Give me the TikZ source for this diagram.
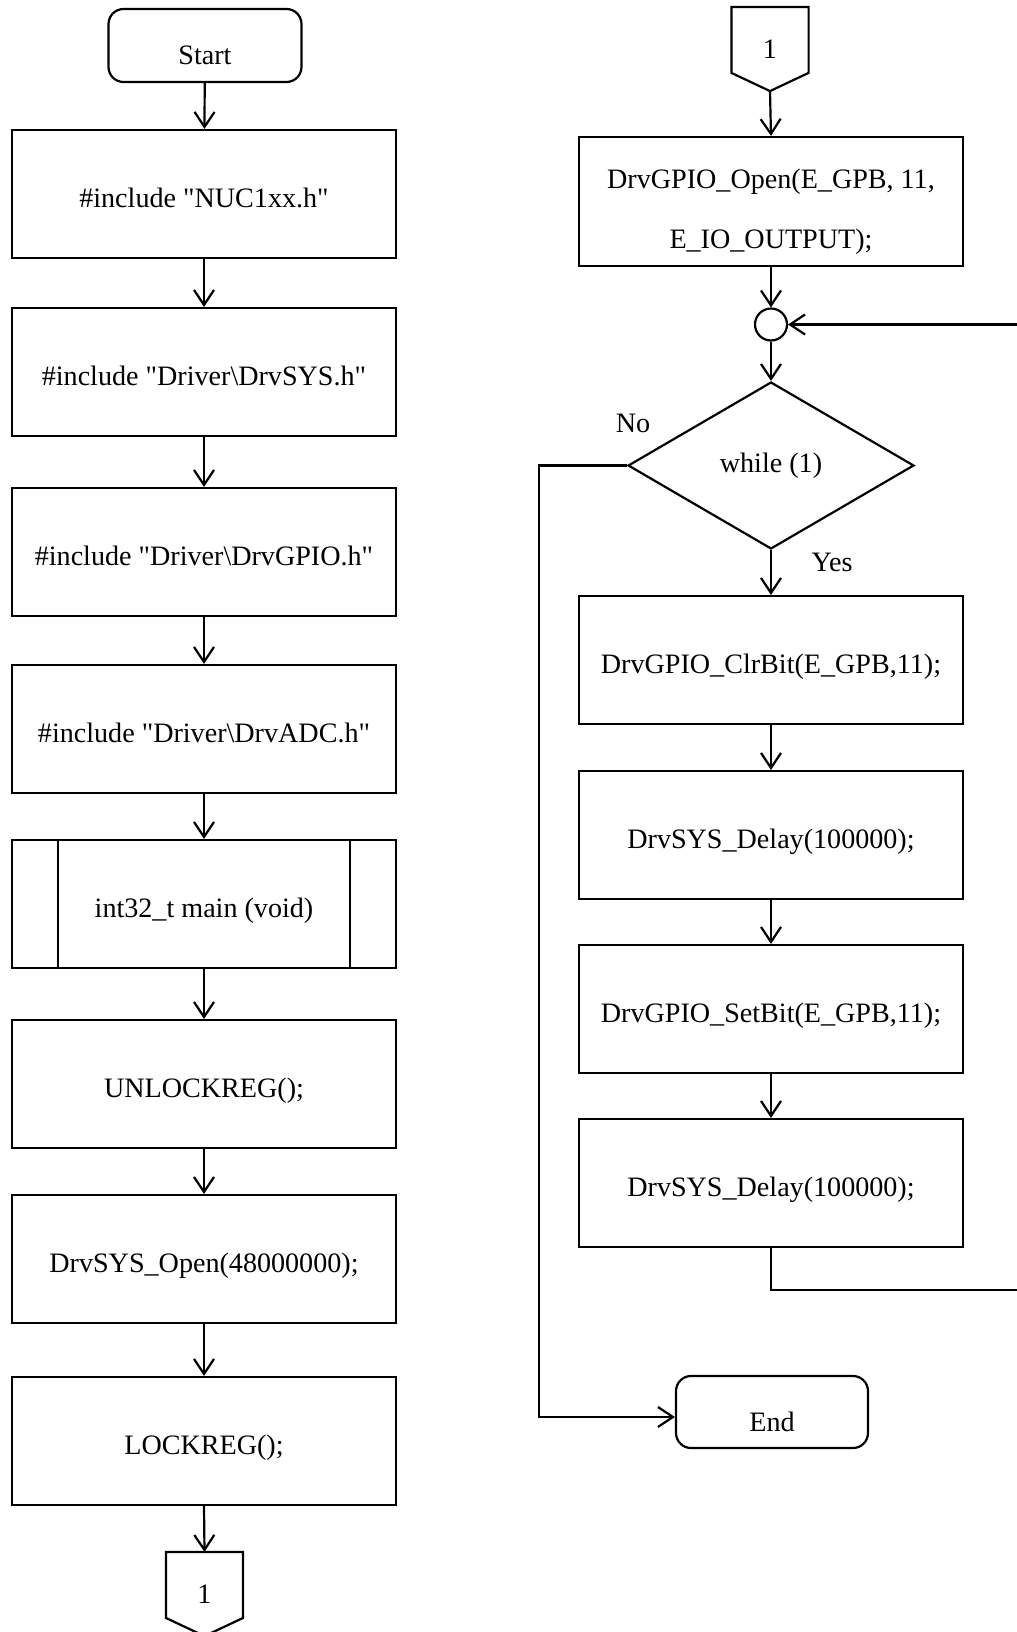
\documentclass[tikz,border=0pt]{standalone}
\usepackage{fontspec}
\setmainfont{Liberation Serif}[Ligatures=TeXOff]
\usetikzlibrary{arrows.meta,shapes.geometric,calc}

\tikzset{
  base/.style={draw, line width=1.25pt, inner sep=0pt, align=center,
    font=\fontsize{16}{34}\selectfont},
  procbox/.style={base, rectangle, minimum width=7.68cm, minimum height=2.56cm,
    text height=0.53cm, text depth=0cm},
  termbox/.style={base, rectangle, rounded corners=0.3cm, minimum width=3.86cm, minimum height=1.46cm,
    text height=0.77cm, text depth=0cm},
  decbox/.style={base, diamond, minimum width=5.72cm, minimum height=3.34cm},
  joinpt/.style={base, circle, minimum size=0.64cm},
  offpage/.style={base, draw=none, rectangle, minimum width=1.5cm, minimum height=1.64cm},
  flow/.style={line width=1.25pt, -{Straight Barb[length=0.3cm, width=0.4cm, line width=1.25pt]}},
  wire/.style={line width=1.25pt},
  lbl/.style={font=\fontsize{16}{19}\selectfont, inner sep=0pt}
}

\begin{document}
\begin{tikzpicture}[x=0.02cm, y=-0.02cm]
  \useasboundingbox (0,0) rectangle (1017,1632);
  \clip (0,0) rectangle (1017,1632);

  % ---- left column: initialisation ----
  \node[termbox] (start) at (205,45.5) {Start};
  \node[procbox] (inc1) at (204,194) {\#include "NUC1xx.h"};
  \node[procbox] (inc2) at (204,372) {\#include "Driver\textbackslash DrvSYS.h"};
  \node[procbox] (inc3) at (204,552) {\#include "Driver\textbackslash DrvGPIO.h"};
  \node[procbox] (inc4) at (204,729) {\#include "Driver\textbackslash DrvADC.h"};
  \node[procbox] (mainfn) at (204,904) {int32\_t main (void)};
  \draw[wire] ($(mainfn.north west)+(47,0)$) -- ($(mainfn.south west)+(47,0)$);
  \draw[wire] ($(mainfn.north east)+(-47,0)$) -- ($(mainfn.south east)+(-47,0)$);
  \node[procbox] (unlock) at (204,1084) {UNLOCKREG();};
  \node[procbox] (sysopen) at (204,1259) {DrvSYS\_Open(48000000);};
  \node[procbox] (lock) at (204,1441) {LOCKREG();};
  \node[offpage] (outc) at (204.5,1594) {1};
  \draw[wire] (outc.north west) -- (outc.north east) -- ($(outc.north east)+(0,66)$)
    -- (outc.south) -- ($(outc.north west)+(0,66)$) -- cycle;

  \draw[flow] (start) -- (inc1);
  \draw[flow] (inc1) -- (inc2);
  \draw[flow] (inc2) -- (inc3);
  \draw[flow] (inc3) -- (inc4);
  \draw[flow] (inc4) -- (mainfn);
  \draw[flow] (mainfn) -- (unlock);
  \draw[flow] (unlock) -- (sysopen);
  \draw[flow] (sysopen) -- (lock);
  \draw[flow] (lock.south) -- (outc.north);

  % ---- right column: main loop ----
  \node[offpage] (inc) at (770,49) {1};
  \draw[wire] (inc.north west) -- (inc.north east) -- ($(inc.north east)+(0,66)$)
    -- (inc.south) -- ($(inc.north west)+(0,66)$) -- cycle;
  \node[base, rectangle, minimum width=7.68cm, minimum height=2.58cm] (gpioopen) at (771,201.5)
    {\rule{0pt}{0.8cm}DrvGPIO\_Open(E\_GPB, 11,\\E\_IO\_OUTPUT);};
  \node[joinpt] (join) at (771,324.5) {};
  \node[decbox] (loop) at (771,465.5) {while (1)};
  \node[procbox] (clr) at (771,660) {DrvGPIO\_ClrBit(E\_GPB,11);};
  \node[procbox] (dly1) at (771,835) {DrvSYS\_Delay(100000);};
  \node[procbox] (set) at (771,1009) {DrvGPIO\_SetBit(E\_GPB,11);};
  \node[procbox] (dly2) at (771,1183) {DrvSYS\_Delay(100000);};
  \node[termbox, minimum width=3.84cm, minimum height=1.44cm] (finish) at (772,1412) {End};

  \node[lbl] (nolbl) at (633,423) {No};
  \node[lbl] (yeslbl) at (832,562) {Yes};

  \draw[flow] (inc.south) -- (gpioopen.north);
  \draw[flow] (gpioopen) -- (join);
  \draw[flow] (join) -- (loop);
  \draw[flow] (loop) -- (clr);
  \draw[flow] (clr) -- (dly1);
  \draw[flow] (dly1) -- (set);
  \draw[flow] (set) -- (dly2);

  % loop back to the junction
  \coordinate (backdown) at (771,1290);
  \coordinate (backright) at (1035,1290);
  \coordinate (backup) at (1035,324.5);
  \draw[flow] (dly2.south) -- (backdown) -- (backright) -- (backup) -- (join.east);

  % exit branch
  \coordinate (exitleft) at (539,465.5);
  \coordinate (exitdown) at (539,1417);
  \draw[flow] (loop.west) -- (exitleft) -- (exitdown) -- (exitdown -| finish.west);
\end{tikzpicture}
\end{document}
